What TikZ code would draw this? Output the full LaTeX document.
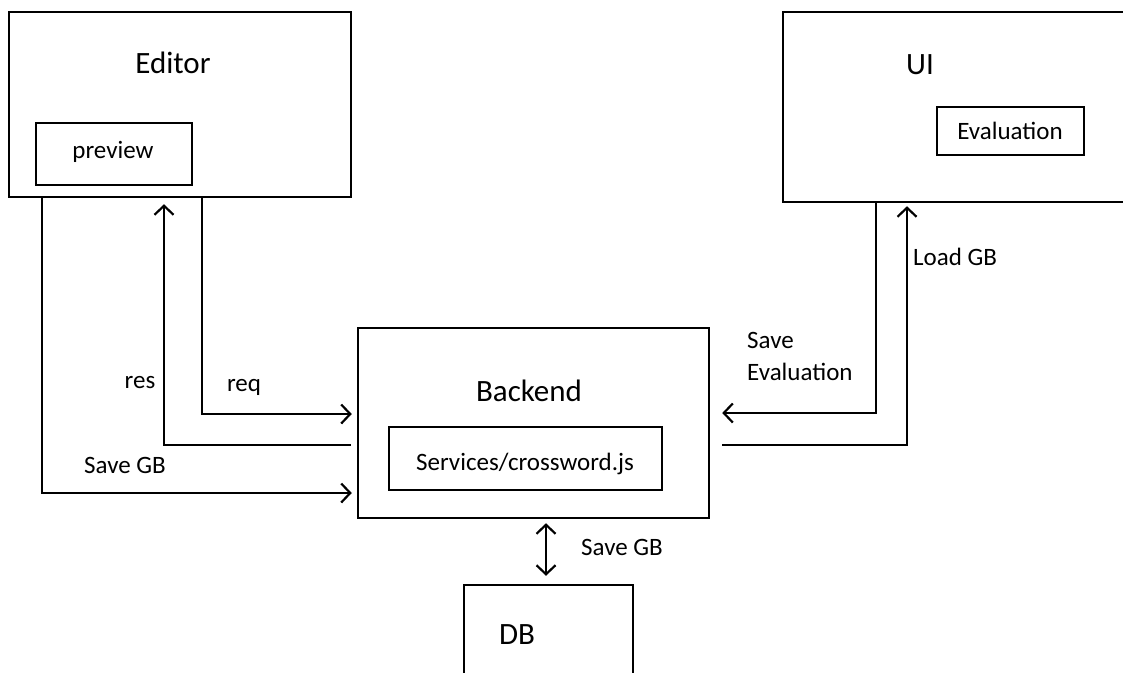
\documentclass[tikz,border=0pt]{standalone}
\usepackage{fontspec}
\setmainfont{Carlito}
\usetikzlibrary{arrows.meta}
\tikzset{
  box/.style = {draw, rectangle, line width=2.5pt, inner sep=0pt},
  title/.style = {font=\fontsize{31}{37}\selectfont, inner sep=0pt},
  lbl/.style = {font=\fontsize{25}{32}\selectfont, inner sep=0pt},
  flow/.style = {line width=2.2pt}
}
\tikzset{>={Straight Barb[length=9pt,width=19pt]}}

\begin{document}
\begin{tikzpicture}[x=1pt,y=-1pt]
  \useasboundingbox (0,0) rectangle (1123,672);
  % boxes
  \node[box, minimum width=342pt, minimum height=185pt] (editor) at (180,104.5) {};
  \node[box, minimum width=156pt, minimum height=62pt]  (preview) at (114,154) {};
  \node[box, minimum width=341pt, minimum height=190pt] (ui) at (953.5,107) {};
  \node[box, minimum width=147pt, minimum height=48pt]  (evaluation) at (1010.5,131) {};
  \node[box, minimum width=351pt, minimum height=190pt] (backend) at (533.5,423) {};
  \node[box, minimum width=273pt, minimum height=63pt]  (services) at (525.5,458.5) {};
  \node[box, minimum width=169pt, minimum height=115pt] (db) at (548.5,642.5) {};
  % texts
  \node[title] (editortxt) at (173,63) {Editor};
  \node[lbl] (previewtxt) at (113,152) {preview};
  \node[title] (uitxt) at (920,65) {UI};
  \node[lbl] (evaluationtxt) at (1010,131) {Evaluation};
  \node[title] (backendtxt) at (529,391) {Backend};
  \node[lbl] (servicestxt) at (525,464) {Services/crossword.js};
  \node[title] (dbtxt) at (517,635) {DB};
  % bends
  \coordinate (savegb) at (42,493);
  \coordinate (res) at (164,445);
  \coordinate (req) at (202,414);
  \coordinate (saveeval) at (876,413);
  \coordinate (loadgb) at (907,445);
  \coordinate (dbline) at (546,560);
  % editor <-> backend
  \draw[flow,->] (editor.south -| savegb) |- ([xshift=-5pt]backend.west |- savegb);
  \draw[flow,->] ([xshift=-6pt]backend.west |- res) -| ([yshift=-6pt]editor.south -| res);
  \draw[flow,->] (editor.south -| req) |- ([xshift=-5pt]backend.west |- req);
  \node[lbl] (restxt) at (140,383) {res};
  \node[lbl] (reqtxt) at (244,387) {req};
  \node[lbl] (savegbtxt) at (125,465) {Save GB};
  % ui <-> backend
  \draw[flow,->] (ui.south -| saveeval) |- ([xshift=12pt]backend.east |- saveeval);
  \draw[flow,->] ([xshift=12pt]backend.east |- loadgb) -| ([yshift=-3pt]ui.south -| loadgb);
  \node[lbl, anchor=west, align=left] (saveevaltxt) at (747,356) {Save\\Evaluation};
  \node[lbl, anchor=west] (loadgbtxt) at (913,257) {Load GB};
  % backend <-> db
  \draw[flow,<->] ([yshift=-4pt]backend.south -| dbline) -- ([yshift=8pt]db.north -| dbline);
  \node[lbl] (dbgbtxt) at (622,547) {Save GB};
\end{tikzpicture}
\end{document}
